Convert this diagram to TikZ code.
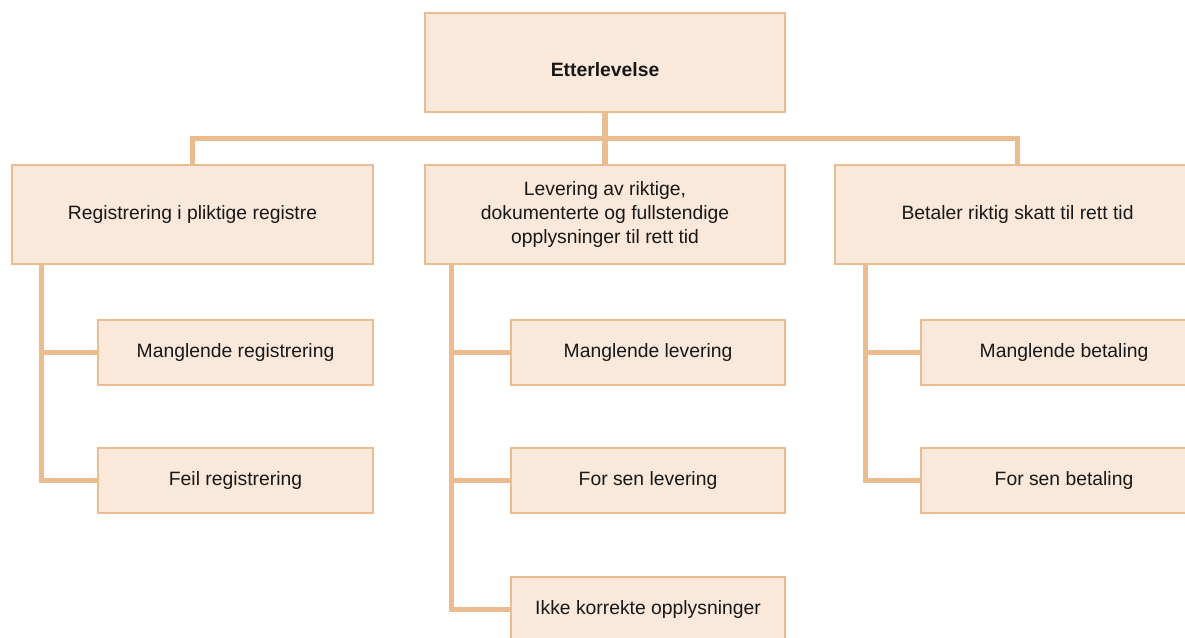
\documentclass[tikz,border=0pt]{standalone}
\usepackage{fontspec}
\setmainfont{Liberation Sans}
\usetikzlibrary{calc}
\definecolor{boxfill}{RGB}{250,232,218}
\definecolor{boxline}{RGB}{234,188,143}
\definecolor{boxtext}{RGB}{24,24,24}
\tikzset{
  box/.style={draw=boxline, fill=boxfill, line width=1.1pt, text=boxtext, align=center, inner sep=0pt, font=\fontsize{11}{13.6}\selectfont},
  mainbox/.style={box, minimum width=7.2cm, minimum height=1.98cm},
  subbox/.style={box, minimum height=1.3cm},
  link/.style={draw=boxline, line width=2.9pt},
}

\begin{document}
\begin{tikzpicture}[x=0.02cm, y=-0.02cm]
        \useasboundingbox (0,0) rectangle (1185,638);
        % level1
        \node[mainbox] (etter) at (605,62.5) {\raisebox{-4pt}[\height][0pt]{\textbf{Etterlevelse}}};
        % level2
        \node[mainbox, minimum width=7.22cm] (reg) at (192.5,214.5) {Registrering i pliktige registre};
        \node[mainbox] (lev) at (605,214.5) {Levering av riktige,\\dokumenterte og fullstendige\\opplysninger til rett tid};
        \node[mainbox, minimum width=7.3cm] (bet) at (1017.5,214.5) {Betaler riktig skatt til rett tid};
        % level3
        \node[subbox, minimum width=5.5cm] (manreg) at (235.5,352.5) {Manglende registrering};
        \node[subbox, minimum width=5.5cm] (feilreg) at (235.5,480.5) {Feil registrering};
        \node[subbox, minimum width=5.48cm] (manlev) at (648,352.5) {Manglende levering};
        \node[subbox, minimum width=5.48cm] (senlev) at (648,480.5) {For sen levering};
        \node[subbox, minimum width=5.48cm] (ikke) at (648,609.5) {Ikke korrekte opplysninger};
        \node[subbox, minimum width=5.72cm] (manbet) at (1064,352.5) {Manglende betaling};
        \node[subbox, minimum width=5.72cm] (senbet) at (1064,480.5) {For sen betaling};

        % links
        \coordinate (bus) at ($(etter.south)!0.5!(lev.north)$);
        \draw[link] (etter.south) -- (lev.north);
        \draw[link] (reg.north) |- (bus) -| (bet.north);
        \draw[link] ($(reg.south west)+(30,0)$) |- (manreg.west);
        \draw[link] ($(reg.south west)+(30,0)$) |- (feilreg.west);
        \draw[link] ($(lev.south west)+(27,0)$) |- (manlev.west);
        \draw[link] ($(lev.south west)+(27,0)$) |- (senlev.west);
        \draw[link] ($(lev.south west)+(27,0)$) |- (ikke.west);
        \draw[link] ($(bet.south west)+(31,0)$) |- (manbet.west);
        \draw[link] ($(bet.south west)+(31,0)$) |- (senbet.west);
\end{tikzpicture}
\end{document}
